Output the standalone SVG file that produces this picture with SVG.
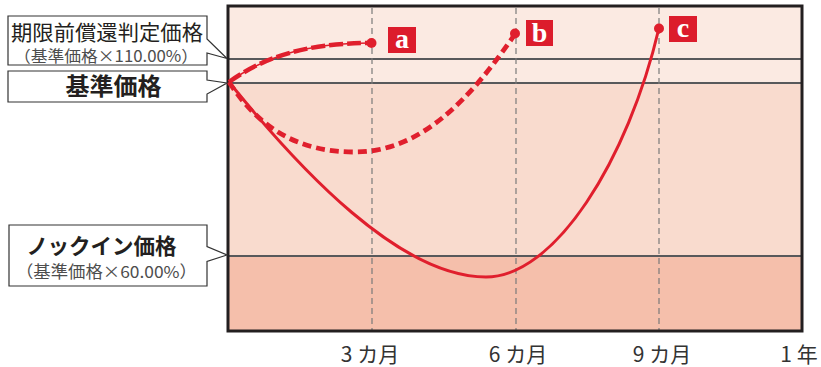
<svg xmlns="http://www.w3.org/2000/svg" width="821" height="367" viewBox="0 0 821 367">
<defs>
<style>
.jp{font-family:"Noto Sans CJK JP","Noto Sans",sans-serif;}
.box{fill:#fff;stroke:#333;stroke-width:1.2;}
.hline{stroke:#58595b;stroke-width:2;fill:none;}
.vline{stroke:#7a7a7a;stroke-width:1.2;stroke-dasharray:6 4;fill:none;}
.curve{fill:none;stroke:#e01f2d;stroke-linecap:butt;}
.dot{fill:#e01f2d;}
.tag{fill:#dc1c2c;}
.tagt{font-family:"Liberation Serif",serif;font-weight:bold;font-size:28px;fill:#fff;text-anchor:middle;}
.ax{font-size:21px;fill:#333;text-anchor:middle;}
</style>
</defs>
<rect width="821" height="367" fill="#fff"/>
<g id="chart">
<rect x="228" y="6" width="574" height="77" fill="#fbeae2"/>
<rect x="228" y="83" width="574" height="173" fill="#f9dbce"/>
<rect x="228" y="256" width="574" height="75" fill="#f5bfab"/>
<line class="hline" x1="228" y1="59" x2="802" y2="59"/>
<line class="hline" x1="228" y1="83" x2="802" y2="83"/>
<line class="hline" x1="228" y1="256" x2="802" y2="256"/>
<line class="vline" x1="372" y1="8" x2="372" y2="330"/>
<line class="vline" x1="516" y1="8" x2="516" y2="330"/>
<line class="vline" x1="659" y1="8" x2="659" y2="330"/>
<rect x="228" y="6" width="574" height="325" fill="none" stroke="#231f20" stroke-width="3"/>
</g>
<g id="connectors">
<path class="curve" stroke-width="1.6" d="M229,82 C260,60 300,43 371,43"/>
<path class="curve" stroke-width="4.5" stroke-dasharray="14 4" d="M229,82 C260,60 300,43 371,43"/>
<path class="curve" stroke-width="4.8" stroke-dasharray="9 5" d="M229,82 C260,130 300,152 355,152 C420,152 470,100 515,34"/>
<path class="curve" stroke-width="3" d="M229,82 C300,170 400,277 486,277 C555,277 628,160 659,28"/>
</g>
<g id="point-a">
<circle class="dot" cx="371.5" cy="43" r="5"/>
<rect class="tag" x="388" y="27" width="28" height="26"/>
<text class="tagt" x="402" y="48">a</text>
</g>
<g id="point-b">
<circle class="dot" cx="515" cy="33.5" r="5"/>
<rect class="tag" x="526" y="20" width="27" height="26"/>
<text class="tagt" x="539.5" y="42">b</text>
</g>
<g id="point-c">
<circle class="dot" cx="659" cy="28.5" r="5"/>
<rect class="tag" x="669" y="16" width="28" height="26"/>
<text class="tagt" x="683" y="37">c</text>
</g>
<g id="label-redemption">
<path class="box" d="M8,16 H207 V39 L227,58.5 L207,53 V65 H8 Z"/>
<text class="jp" x="11" y="39.5" font-size="21" fill="#231f20" textLength="192" lengthAdjust="spacingAndGlyphs">期限前償還判定価格</text>
<text class="jp" x="14" y="61.5" font-size="16" fill="#4d4d4d" textLength="184" lengthAdjust="spacingAndGlyphs">（基準価格×110.00%）</text>
</g>
<g id="label-base">
<path class="box" d="M8,71 H207 V80 L227,83 L207,94 V102 H8 Z"/>
<text class="jp" x="113.5" y="95" font-size="24" font-weight="bold" fill="#231f20" text-anchor="middle">基準価格</text>
</g>
<g id="label-knockin">
<path class="box" d="M9,225 H207 V246.5 L227,255 L207,261.5 V286 H9 Z"/>
<text class="jp" x="101.5" y="254" font-size="21.5" font-weight="bold" fill="#231f20" text-anchor="middle">ノックイン価格</text>
<text class="jp" x="16" y="278" font-size="16.5" fill="#4d4d4d" textLength="181" lengthAdjust="spacingAndGlyphs">（基準価格×60.00%）</text>
</g>
<g id="axis-labels">
<text class="jp ax" x="370" y="362">3 カ月</text>
<text class="jp ax" x="518" y="362">6 カ月</text>
<text class="jp ax" x="662" y="362">9 カ月</text>
<text class="jp ax" x="799" y="362">1 年</text>
</g>
</svg>
